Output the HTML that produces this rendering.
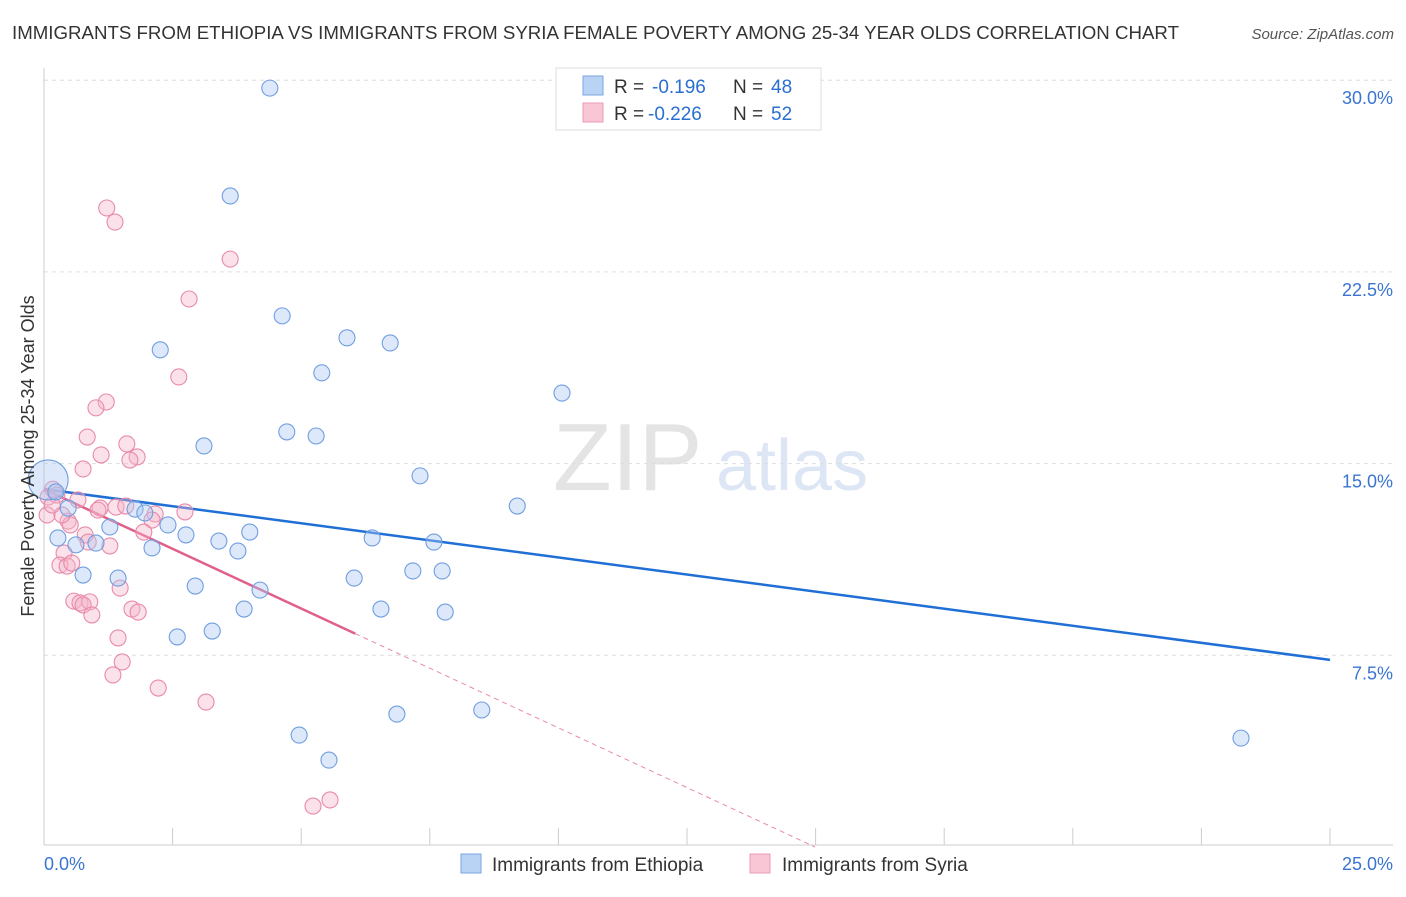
<!DOCTYPE html>
<html><head><meta charset="utf-8"><style>
body{margin:0;background:#fff;font-family:"Liberation Sans",sans-serif;}
svg text{font-family:"Liberation Sans",sans-serif;}
</style></head><body>
<svg width="1406" height="892" viewBox="0 0 1406 892">
<text x="12" y="39" font-size="18" fill="#333" textLength="1167" lengthAdjust="spacingAndGlyphs">IMMIGRANTS FROM ETHIOPIA VS IMMIGRANTS FROM SYRIA FEMALE POVERTY AMONG 25-34 YEAR OLDS CORRELATION CHART</text>
<text x="1394" y="39" font-size="15" fill="#555" text-anchor="end" font-style="italic">Source: ZipAtlas.com</text>
<text x="553" y="490" font-size="96" fill="#e4e4e4" font-family="Liberation Serif">ZIP</text>
<text x="716" y="490" font-size="72" fill="#dce6f5">atlas</text>
<g id="grid"></g><g id="axes"></g><g id="trend"></g><g id="pts"></g>
<text transform="translate(34,456) rotate(-90)" font-size="18" fill="#333" text-anchor="middle">Female Poverty Among 25-34 Year Olds</text>
<g>
<rect x="556" y="68" width="265" height="62" fill="#fff" stroke="#ddd"/>
<rect x="583" y="76" width="20" height="19" fill="#b9d3f5" stroke="#7aa5e0"/>
<rect x="583" y="103" width="20" height="19" fill="#f9c6d6" stroke="#eb98b4"/>
<text x="614" y="93" font-size="19" fill="#333">R =</text>
<text x="652" y="93" font-size="19" fill="#2a6fd0">-0.196</text>
<text x="733" y="93" font-size="19" fill="#333">N =</text>
<text x="771" y="93" font-size="19" fill="#2a6fd0">48</text>
<text x="614" y="120" font-size="19" fill="#333">R =</text>
<text x="648" y="120" font-size="19" fill="#2a6fd0">-0.226</text>
<text x="733" y="120" font-size="19" fill="#333">N =</text>
<text x="771" y="120" font-size="19" fill="#2a6fd0">52</text>
</g>
<g>
<rect x="461" y="854" width="20" height="19" fill="#b9d3f5" stroke="#7aa5e0"/>
<text x="492" y="871" font-size="19" fill="#333">Immigrants from Ethiopia</text>
<rect x="750" y="854" width="20" height="19" fill="#f9c6d6" stroke="#eb98b4"/>
<text x="782" y="871" font-size="19" fill="#333">Immigrants from Syria</text>
</g>
</svg>
<script>
const yTicks=[7.5,15,22.5,30];
const yTickLabels=["7.5%","15.0%","22.5%","30.0%"];
const xTickLabels=["0.0%","25.0%"];
const blueX=[4.39,3.62,4.63,5.89,6.73,2.26,5.40,10.07,3.11,4.72,5.29,7.31,9.20,1.77,1.96,0.47,1.28,2.41,2.76,4.00,3.40,3.77,2.10,6.38,7.58,0.27,0.62,1.01,0.76,1.44,2.94,4.20,6.03,7.17,7.74,3.89,6.55,7.80,2.59,3.27,6.86,8.51,4.96,5.54,23.27,0.08,0.23];
const blueY=[29.69,25.47,20.78,19.92,19.72,19.45,18.55,17.76,15.69,16.24,16.08,14.52,13.34,13.22,13.07,13.26,12.52,12.60,12.21,12.32,11.97,11.58,11.70,12.09,11.93,12.09,11.82,11.89,10.64,10.52,10.21,10.05,10.52,10.80,10.80,9.31,9.31,9.19,8.22,8.45,5.20,5.36,4.38,3.40,4.26,14.36,13.89];
const pinkX=[1.22,1.38,3.62,2.82,2.62,1.21,1.01,0.84,1.61,1.81,1.11,1.67,0.76,0.17,0.08,0.25,0.66,1.09,1.40,1.05,1.59,2.16,2.74,2.10,0.47,0.51,1.94,0.80,0.39,1.28,0.86,0.31,0.45,0.54,1.48,0.58,0.70,0.89,0.76,0.93,1.71,1.83,1.44,1.52,1.34,2.22,3.15,5.23,5.56,0.06,0.35,0.16];
const pinkY=[25.00,24.45,23.00,21.44,18.39,17.41,17.18,16.04,15.77,15.26,15.34,15.14,14.79,14.00,13.69,13.77,13.58,13.26,13.30,13.18,13.34,13.03,13.11,12.79,12.75,12.60,12.32,12.21,11.50,11.78,11.93,11.03,10.99,11.11,10.13,9.62,9.55,9.59,9.47,9.08,9.31,9.19,8.18,7.24,6.73,6.22,5.67,1.60,1.84,12.99,12.99,13.38];
const blueTrend=[14.0,7.32];
const pinkIntercept=14.0;
const pinkSlope=-0.934;
const pinkSolidEnd=6.05;
const sx=v=>44+v*51.44, sy=v=>847-v*25.56;
const NS="http://www.w3.org/2000/svg";
function mk(t,a,p){const e=document.createElementNS(NS,t);for(const k in a)e.setAttribute(k,a[k]);document.getElementById(p).appendChild(e);return e;}
yTicks.forEach((t,i)=>{
 const l=mk('line',{x1:44,x2:1393,y1:sy(t),y2:sy(t),stroke:'#ddd','stroke-dasharray':'4,4'},'grid');
 
 
 const tx=mk('text',{x:1393,y:sy(t)+24,'font-size':18,fill:'#3a74d0','text-anchor':'end'},'grid');tx.textContent=yTickLabels[i];
 
 
});
mk('line',{x1:44,x2:44,y1:68,y2:845,stroke:'#ccc'},'axes');
mk('line',{x1:44,x2:1393,y1:845,y2:845,stroke:'#ccc'},'axes');
for(let i=0;i<=10;i++){const t=mk('line',{x1:sx(i*2.5),x2:sx(i*2.5),y1:828,y2:845,stroke:'#ccc'},'axes');
 
 }
const xl0=mk('text',{x:44,y:870,'font-size':18,fill:'#3a74d0'},'axes');xl0.textContent=xTickLabels[0];


const xl1=mk('text',{x:1393,y:870,'font-size':18,fill:'#3a74d0','text-anchor':'end'},'axes');xl1.textContent=xTickLabels[1];


function pts(X,Y,fill,stroke,name){X.forEach((x,i)=>{const big=(name==='ethiopia-point'&&i===45);
 const c=mk('circle',{cx:sx(x),cy:sy(Y[i]),r:big?20:8,fill:fill,'fill-opacity':0.4,stroke:stroke,'stroke-width':1.1},'pts');
 
 });}
pts(pinkX,pinkY,'#f6b3c9','#e88aaa','syria-point');
pts(blueX,blueY,'#a9c9f2','#6f9ee0','ethiopia-point');
const bl=mk('line',{x1:sx(0),y1:sy(blueTrend[0]),x2:sx(25),y2:sy(blueTrend[1]),stroke:'#1f6fd6','stroke-width':2.5},'trend');


const xEnd=-pinkIntercept/pinkSlope;
const ps=mk('line',{x1:sx(0),y1:sy(pinkIntercept),x2:sx(pinkSolidEnd),y2:sy(pinkIntercept+pinkSlope*pinkSolidEnd),stroke:'#e0608a','stroke-width':2.5},'trend');


const pd=mk('line',{x1:sx(pinkSolidEnd),y1:sy(pinkIntercept+pinkSlope*pinkSolidEnd),x2:sx(xEnd),y2:sy(0),stroke:'#e88aaa','stroke-width':1,'stroke-dasharray':'5,4'},'trend');


</script>
</body></html>
